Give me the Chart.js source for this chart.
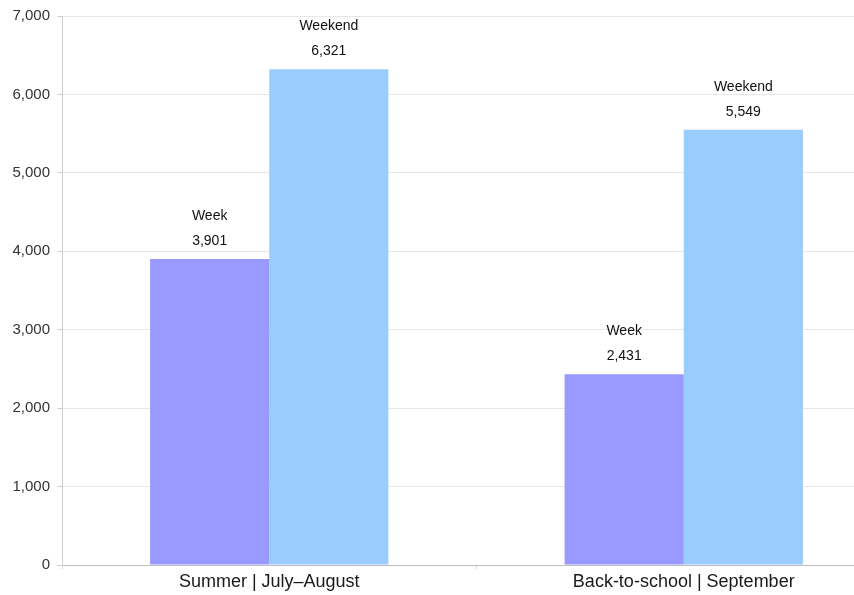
<!DOCTYPE html>
<html lang="en">
<head>
    <meta charset="utf-8">
    <script src="https://cdn.jsdelivr.net/npm/chart.js"></script>
    <title>Week vs Weekend</title>
    <style>
        html, body { margin: 0; padding: 0; background: #fff; overflow: hidden; }
        #wrap { width: 891px; height: 595px; }
    </style>
</head>
<body>
<div id="wrap"><canvas id="chart"></canvas></div>
<script>
    const categories = ['Summer | July\u2013August', 'Back-to-school | September'];
    const seriesNames = ['Week', 'Weekend'];
    const weekValues = [3901, 2431];
    const weekendValues = [6321, 5549];
    const yTicks = [0, 1000, 2000, 3000, 4000, 5000, 6000, 7000];

    const FONT = "'Liberation Sans', Arial, sans-serif";

    // label each bar with series name and value above it
    const barLabels = {
        id: 'barLabels',
        afterDatasetsDraw(chart) {
            const ctx = chart.ctx;
            ctx.save();
            ctx.font = '14px ' + FONT;
            ctx.fillStyle = '#111';
            ctx.textAlign = 'center';
            ctx.textBaseline = 'middle';
            chart.data.datasets.forEach((ds, i) => {
                chart.getDatasetMeta(i).data.forEach((bar, j) => {
                    ctx.fillText(ds.label, bar.x, bar.y - 43);
                    ctx.fillText(ds.data[j].toLocaleString('en-US'), bar.x, bar.y - 18);
                });
            });
            ctx.restore();
        }
    };

    new Chart(document.getElementById('chart'), {
        type: 'bar',
        data: {
            labels: categories,
            datasets: [
                { label: seriesNames[0], data: weekValues, backgroundColor: '#9999ff' },
                { label: seriesNames[1], data: weekendValues, backgroundColor: '#99ccff' }
            ]
        },
        options: {
            responsive: true,
            maintainAspectRatio: false,
            animation: false,
            categoryPercentage: 0.575,
            barPercentage: 1,
            layout: { padding: { top: 15, right: 0, left: 0, bottom: 0 } },
            plugins: {
                legend: { display: false },
                tooltip: { enabled: false }
            },
            scales: {
                x: {
                    grid: { drawOnChartArea: false, drawTicks: true, tickLength: 4, color: '#d8d8d8' },
                    border: { color: '#bdbdbd' },
                    ticks: { color: '#1a1a1a', font: { family: FONT, size: 18 }, padding: 2 },
                    afterFit(s) { s.height = 30; }
                },
                y: {
                    min: 0,
                    max: 7000,
                    afterBuildTicks(s) { s.ticks = yTicks.map(v => ({ value: v })); },
                    grid: { color: '#e6e6e6', tickLength: 5, tickColor: '#cfcfcf' },
                    border: { color: '#cfcfcf' },
                    ticks: {
                        color: '#333',
                        font: { family: FONT, size: 15 },
                        padding: 7,
                        callback: v => v.toLocaleString('en-US')
                    },
                    afterFit(s) { s.width = 62; }
                }
            }
        },
        plugins: [barLabels]
    });
</script>
</body>
</html>
